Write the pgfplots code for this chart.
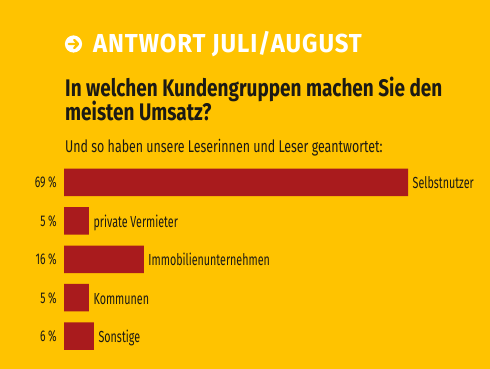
\documentclass[border=0pt]{standalone}
\usepackage{fontspec}
\setmainfont{Fira Sans}[FakeStretch=0.67]
\newfontfamily\titlefont{Fira Sans}[FakeStretch=0.92, LetterSpace=3.5]
\newfontfamily\qfont{Fira Sans}[FakeStretch=0.79]
\newfontfamily\subfont{Fira Sans}[FakeStretch=0.73]
\usepackage{pgfplots}
\usepackage{pgfplotstable}
\usetikzlibrary{backgrounds}
\pgfplotsset{compat=1.18}
\definecolor{bg}{HTML}{FFC300}
\definecolor{barred}{HTML}{A91B1D}
\definecolor{ink}{HTML}{1C1A14}
\pgfplotstableread[col sep=comma]{
x,y,label
69,0,Selbstnutzer
5,1,private Vermieter
16,2,Immobilienunternehmen
5,3,Kommunen
6,4,Sonstige
}\data
\begin{document}
\begin{tikzpicture}
\begin{axis}[
  scale only axis,
  width=344pt, height=192pt,
  xmin=0, xmax=69, ymin=-0.5, ymax=4.5, y dir=reverse,
  xbar, bar width=27.5pt, bar shift=0pt,
  axis line style={draw=none}, tick style={draw=none}, major tick length=0pt,
  xtick=\empty, ytick={0,1,2,3,4},
  yticklabels={69\,\%,5\,\%,16\,\%,5\,\%,6\,\%},
  yticklabel style={anchor=base east, inner sep=0pt, xshift=-7pt, yshift=-5.5pt, text=ink, font=\fontsize{15.5}{15.5}\selectfont},
  clip=false,
  nodes near coords, point meta=explicit symbolic,
  nodes near coords style={anchor=base west, inner sep=0pt, xshift=4.5pt, yshift=-6.5pt, text=ink, font=\fontsize{16}{16}\selectfont},
]
\addplot[fill=barred, draw=none] table[x=x, y=y, meta=label] {\data};
\coordinate (ref) at (axis cs:0,0);
\end{axis}
\begin{scope}[shift={(ref)}, shift={(-64pt,-186.5pt)}, x=1pt, y=1pt]
\begin{pgfonlayer}{background}
\fill[bg] (0,0) rectangle (490,369);
\end{pgfonlayer}
\fill[white] (73.5,325) circle (8.6);
\draw[bg, line width=2.3, line cap=round, line join=round] (68.8,325) -- (77.6,325) (74.2,329.1) -- (78.1,325) -- (74.2,320.9);
\node[anchor=base west, inner sep=0, text=white, font=\titlefont\bfseries\fontsize{26}{26}\selectfont] at (93,316) {ANTWORT JULI/AUGUST};
\node[anchor=base west, inner sep=0, text=ink, font=\qfont\bfseries\fontsize{24}{24}\selectfont] at (65,272) {In welchen Kundengruppen machen Sie den};
\node[anchor=base west, inner sep=0, text=ink, font=\qfont\bfseries\fontsize{24}{24}\selectfont] at (65,248.5) {meisten Umsatz?};
\node[anchor=base west, inner sep=0, text=ink, font=\subfont\fontsize{17}{17}\selectfont] at (65,216) {Und so haben unsere Leserinnen und Leser geantwortet:};
\pgfresetboundingbox
\useasboundingbox (0,0) rectangle (490,369);
\end{scope}
\end{tikzpicture}
\end{document}
